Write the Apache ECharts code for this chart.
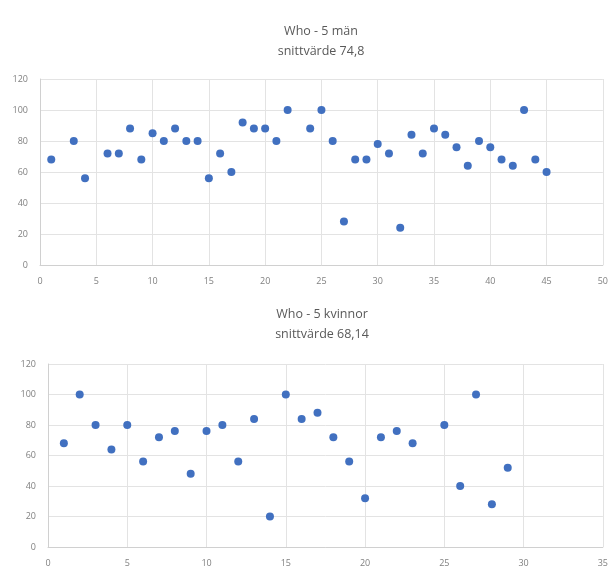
<!DOCTYPE html>
<html>
<head>
<meta charset="utf-8">
<script src="https://cdn.jsdelivr.net/npm/echarts@6/dist/echarts.min.js"></script>
<style>
html,body{margin:0;padding:0;background:#fff;}
#c{width:611px;height:568px;}
</style>
</head>
<body>
<div id="c"></div>
<script>
// Top chart: Who - 5 män
const menX = [1,3,4,6,7,8,9,10,11,12,13,14,15,16,17,18,19,20,21,22,24,25,26,27,28,29,30,31,32,33,34,35,36,37,38,39,40,41,42,43,44,45];
const menY = [68,80,56,72,72,88,68,85,80,88,80,80,56,72,60,92,88,88,80,100,88,100,80,28,68,68,78,72,24,84,72,88,84,76,64,80,76,68,64,100,68,60];
// Bottom chart: Who - 5 kvinnor
const womenX = [1,2,3,4,5,6,7,8,9,10,11,12,13,14,15,16,17,18,19,20,21,22,23,25,26,27,28,29];
const womenY = [68,100,80,64,80,56,72,76,48,76,80,56,84,20,100,84,88,72,56,32,72,76,68,80,40,100,28,52];
const titles = ["Who - 5 män", "snittvärde 74,8", "Who - 5 kvinnor", "snittvärde 68,14"];
const xMax = [50, 35];

const pair = (xs, ys) => xs.map((x, i) => [x, ys[i]]);
const gray = '#595959';
const gridColor = '#e3e3e3';

function xAxisOf(idx, max) {
  return {
    gridIndex: idx, type: 'value', min: 0, max: max, interval: 5,
    axisLine: {show: true, lineStyle: {color: '#d0d0d0'}},
    axisTick: {show: false},
    splitLine: {show: true, lineStyle: {color: gridColor}},
    axisLabel: {color: '#808080', fontSize: 9, margin: 12, fontFamily: 'Open Sans'}
  };
}
function yAxisOf(idx) {
  return {
    gridIndex: idx, type: 'value', min: 0, max: 120, interval: 20,
    axisLine: {show: true, lineStyle: {color: '#d0d0d0'}},
    axisTick: {show: false},
    splitLine: {show: true, lineStyle: {color: gridColor}},
    axisLabel: {color: '#808080', fontSize: 9, margin: 12, fontFamily: 'Open Sans'}
  };
}

const chart = echarts.init(document.getElementById('c'));
chart.setOption({
  animation: false,
  backgroundColor: '#fff',
  title: [
    {text: titles[0], left: 316, top: 20, textAlign: 'center', textStyle: {fontSize: 12.5, fontWeight: 'normal', color: gray, fontFamily: 'Open Sans'}},
    {text: titles[1], left: 316, top: 40, textAlign: 'center', textStyle: {fontSize: 12.5, fontWeight: 'normal', color: gray, fontFamily: 'Open Sans'}},
    {text: titles[2], left: 317, top: 303, textAlign: 'center', textStyle: {fontSize: 12.5, fontWeight: 'normal', color: gray, fontFamily: 'Open Sans'}},
    {text: titles[3], left: 317, top: 323, textAlign: 'center', textStyle: {fontSize: 12.5, fontWeight: 'normal', color: gray, fontFamily: 'Open Sans'}}
  ],
  grid: [
    {left: 40, top: 79, width: 566, height: 186},
    {left: 48, top: 364, width: 557, height: 183}
  ],
  xAxis: [xAxisOf(0, xMax[0]), xAxisOf(1, xMax[1])],
  yAxis: [yAxisOf(0), yAxisOf(1)],
  series: [
    {type: 'scatter', xAxisIndex: 0, yAxisIndex: 0, data: pair(menX, menY), symbolSize: 8, itemStyle: {color: '#4170c0', opacity: 1}},
    {type: 'scatter', xAxisIndex: 1, yAxisIndex: 1, data: pair(womenX, womenY), symbolSize: 8, itemStyle: {color: '#4170c0', opacity: 1}}
  ]
});
</script>
</body>
</html>
